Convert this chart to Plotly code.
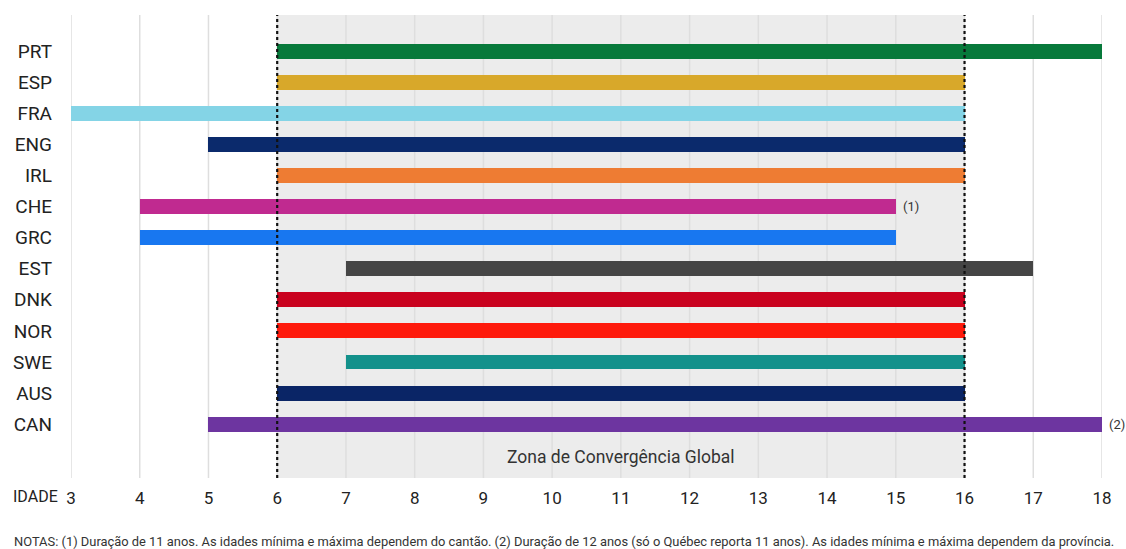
import plotly.graph_objects as go

countries = ["PRT", "ESP", "FRA", "ENG", "IRL", "CHE", "GRC", "EST", "DNK", "NOR", "SWE", "AUS", "CAN"]
start_age = [6, 6, 3, 5, 6, 4, 4, 7, 6, 6, 7, 6, 5]
end_age = [18, 16, 16, 16, 16, 15, 15, 17, 16, 16, 16, 16, 18]
colors = ["#07793b", "#d8a82a", "#84d4e6", "#0b2a6c", "#ee7c33", "#c02a90", "#1877f0",
          "#454545", "#c9021f", "#fe1a0c", "#13918b", "#0a2566", "#6d35a0"]
notes_marks = {"CHE": "(1)", "CAN": "(2)"}
age_ticks = list(range(3, 19))
zone_start, zone_end = 6, 16
zone_label = "Zona de Convergência Global"
axis_label = "IDADE"
notes_text = ("NOTAS: (1) Duração de 11 anos. As idades mínima e máxima dependem do cantão. "
              "(2) Duração de 12 anos (só o Québec reporta 11 anos). As idades mínima e máxima dependem da província.")

W, H = 1126, 549
ML, MR, MT, MB = 71, 24, 15, 71
plot_w = W - ML - MR
plot_h = H - MT - MB


def px_to_paper(px, py):
    return (px - ML) / plot_w, 1 - (py - MT) / plot_h


ypos = list(range(len(countries)))

fig = go.Figure()
fig.add_trace(go.Bar(
    y=ypos, x=[e - s for s, e in zip(start_age, end_age)], base=start_age,
    orientation="h", marker=dict(color=colors, line=dict(width=0)), width=0.48,
    hoverinfo="skip", showlegend=False,
))

# convergence zone
fig.add_shape(type="rect", x0=zone_start, x1=zone_end, y0=0, y1=1, xref="x", yref="y domain",
              fillcolor="#ececec", line=dict(width=0), layer="below")
for xv in (zone_start, zone_end):
    fig.add_shape(type="line", x0=xv, x1=xv, y0=0, y1=1, xref="x", yref="y domain",
                  line=dict(color="#111111", width=2.2, dash="dot"), layer="above")

fig.add_annotation(x=(zone_start + zone_end) / 2, y=len(countries) + 0.05, text=zone_label,
                   showarrow=False, xref="x", yref="y",
                   font=dict(family="Roboto", size=17.5, color="#333333"))

for c, mark in notes_marks.items():
    i = countries.index(c)
    fig.add_annotation(x=end_age[i], y=i, text=mark, showarrow=False, xanchor="left", xshift=5,
                       xref="x", yref="y", font=dict(family="Roboto", size=13, color="#333333"))

ax_, ay_ = px_to_paper(35, 497)
fig.add_annotation(x=ax_, y=ay_, xref="paper", yref="paper", text=axis_label, showarrow=False,
                   xanchor="center", yanchor="middle",
                   font=dict(family="Roboto", size=16, color="#222222"))

nx_, ny_ = px_to_paper(12, 541)
fig.add_annotation(x=nx_, y=ny_, xref="paper", yref="paper", text=notes_text, showarrow=False,
                   xanchor="left", yanchor="middle",
                   font=dict(family="Roboto", size=12.9, color="#333333"))

fig.update_layout(
    width=W, height=H,
    margin=dict(l=ML, r=MR, t=MT, b=MB),
    plot_bgcolor="rgba(0,0,0,0)", paper_bgcolor="white",
    bargap=0,
    xaxis=dict(range=[3, 18], tickvals=age_ticks, ticktext=[str(t) for t in age_ticks],
               showgrid=False, zeroline=False, showline=False,
               tickfont=dict(family="Roboto", size=17, color="#222222"), ticks="", ticklabelstandoff=8),
    yaxis=dict(range=[13.73, -1.16], tickvals=ypos, ticktext=countries, showgrid=False,
               zeroline=False, showline=False, ticks="",
               tickfont=dict(family="Roboto", size=19, color="#222222"), ticklabelstandoff=18),
    font=dict(family="Roboto"),
)

# vertical grid lines drawn over the zone fill but beneath the bars
for t in age_ticks:
    fig.add_shape(type="line", x0=t, x1=t, y0=0, y1=1, xref="x", yref="y domain",
                  line=dict(color="#dedede", width=1.5), layer="below")

fig.write_html("out.html")
